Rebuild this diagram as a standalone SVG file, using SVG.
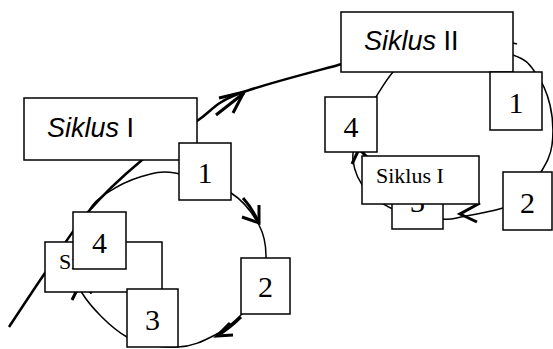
<svg xmlns="http://www.w3.org/2000/svg" width="553" height="349" viewBox="0 0 553 349">
<style>
.box{fill:#fff;stroke:#000;stroke-width:1.5}
.sans{font-family:"Liberation Sans",Arial,sans-serif;font-size:27px;fill:#000}
.num{font-family:"Liberation Serif","Times New Roman",serif;font-size:30px;text-anchor:middle;fill:#000}
.lbl{font-family:"Liberation Serif","Times New Roman",serif;font-size:22px;fill:#000}
.loop{fill:none;stroke:#000;stroke-width:1.5}
.main{fill:none;stroke:#000;stroke-width:2.5}
.ah{fill:none;stroke:#000;stroke-width:3;stroke-linecap:butt;stroke-linejoin:miter}
</style>
<rect width="553" height="349" fill="#fff"/>
<g id="connectors">
  <path class="loop" d="M175,173 C190.2,175.7 217,184.3 231,193 C245,201.7 253.2,214.2 259,225 C264.8,235.8 266.2,246.8 266,258 C265.8,269.2 262,282.7 258,292 C254,301.3 249.2,306.8 242,314 C234.8,321.2 225.7,329.5 215,335 C204.3,340.5 192.7,346.7 178,347 C163.3,347.3 143,346 127,337 C111,328 90.8,307.2 82,293 C73.2,278.8 73,265.5 74,252 C75,238.5 82.5,221.8 88,212 C93.5,202.2 98.3,198.8 107,193 C115.7,187.2 128.7,180.3 140,177 C151.3,173.7 159.8,170.3 175,173 Z"/>
  <path class="loop" d="M450,41 C466.3,41.5 498.8,49.8 513,55 C527.2,60.2 528.8,63.7 535,72 C541.2,80.3 547.2,92.8 550,105 C552.8,117.2 553.5,133.8 552,145 C550.5,156.2 546.3,163.2 541,172 C535.7,180.8 526.3,192 520,198 C513.7,204 512.8,204.8 503,208 C493.2,211.2 471,215.2 461,217 C451,218.8 453.2,219.8 443,219 C432.8,218.2 412.7,216.7 400,212 C387.3,207.3 374.8,199.7 367,191 C359.2,182.3 354.2,171 353,160 C351.8,149 356.2,135.5 360,125 C363.8,114.5 370.5,105.8 376,97 C381.5,88.2 386.5,79.5 393,72 C399.5,64.5 405.5,57.2 415,52 C424.5,46.8 433.7,40.5 450,41 Z"/>
  <path class="main" d="M9,327 C15,318 31.8,292.2 45,273 C58.2,253.8 71.8,230.8 88,212 C104.2,193.2 123.8,175.2 142,160 C160.2,144.8 181,132 197,121 C213,110 213.8,103.5 238,94 C262.2,84.5 324.7,69 342,64"/>
  <path class="ah" d="M243,198 Q252,208 259,223"/>
  <polyline class="ah" points="242,217 259,223 259,205"/>
  <path class="ah" d="M241,317 Q230,328 217,336"/>
  <polyline class="ah" points="230,323 217,336 233,335"/>
  <path class="ah" d="M216,115 L244,93"/>
  <polyline class="ah" points="219,98 244,92 233,113"/>
  <polyline class="ah" points="480,203 460,214 477,222"/>
  <polyline class="ah" points="352,164 359,149 370,160"/>
  <polyline class="ah" points="72,300 80,284 92,293"/>
  <line class="loop" x1="513" y1="43" x2="517" y2="44"/>
</g>
<g id="siklus1">
  <rect class="box" x="24" y="98" width="173" height="62"/>
  <text class="sans" x="47" y="137"><tspan font-style="italic">Siklus</tspan> I</text>
</g>
<g id="siklus2">
  <rect class="box" x="341" y="12" width="172" height="60"/>
  <text class="sans" x="364" y="50"><tspan font-style="italic">Siklus</tspan> II</text>
</g>
<g id="left-small">
  <rect class="box" x="45" y="242" width="117" height="50"/>
  <text class="lbl" x="59" y="269">Siklus I</text>
</g>
<g id="left-1">
  <rect class="box" x="179" y="143" width="52" height="57"/>
  <text class="num" x="205" y="183">1</text>
</g>
<g id="left-2">
  <rect class="box" x="241" y="258" width="49" height="56"/>
  <text class="num" x="265.5" y="297">2</text>
</g>
<g id="left-3">
  <rect class="box" x="127" y="289" width="51" height="58"/>
  <text class="num" x="152.5" y="330">3</text>
</g>
<g id="left-4">
  <rect class="box" x="73" y="212" width="53" height="57"/>
  <text class="num" x="99.5" y="253">4</text>
</g>
<g id="right-1">
  <rect class="box" x="490" y="72" width="52" height="58"/>
  <text class="num" x="516" y="113">1</text>
</g>
<g id="right-2">
  <rect class="box" x="503" y="172" width="49" height="58"/>
  <text class="num" x="527.5" y="213">2</text>
</g>
<g id="right-3">
  <rect class="box" x="392" y="172" width="51" height="57"/>
  <text class="num" x="417.5" y="212">3</text>
</g>
<g id="right-4">
  <rect class="box" x="325" y="97" width="52" height="55"/>
  <text class="num" x="351" y="137">4</text>
</g>
<g id="right-small">
  <rect class="box" x="362" y="156" width="117" height="48"/>
  <text class="lbl" x="376" y="183">Siklus I</text>
</g>
</svg>
